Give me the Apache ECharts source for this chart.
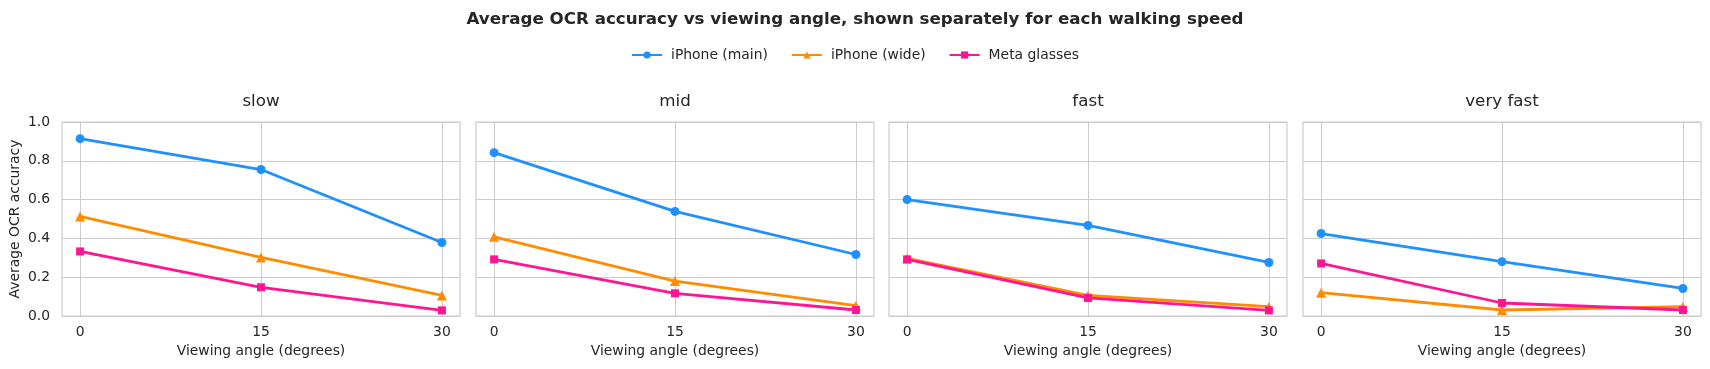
<!DOCTYPE html>
<html>
<head>
<meta charset="utf-8">
<title>Average OCR accuracy vs viewing angle</title>
<script src="https://cdn.jsdelivr.net/npm/echarts@6.0.0/dist/echarts.min.js"></script>
<style>
  html, body { margin: 0; padding: 0; background: #fff; }
  #chart { width: 1710px; height: 369px; }
</style>
</head>
<body>
<div id="chart"></div>
<script>
// walking speeds (one panel each) and viewing angles
const speeds = ['slow', 'mid', 'fast', 'very fast']
const angles = [0, 15, 30]
const yTicks = [0, 0.2, 0.4, 0.6, 0.8, 1.0]

// accuracy per speed, values at 0 / 15 / 30 degrees
const iphoneMain = [
  [0.914, 0.755, 0.379],
  [0.842, 0.539, 0.317],
  [0.600, 0.467, 0.276],
  [0.425, 0.280, 0.142]
]
const iphoneWide = [
  [0.513, 0.302, 0.106],
  [0.408, 0.180, 0.053],
  [0.297, 0.106, 0.048],
  [0.120, 0.031, 0.048]
]
const metaGlasses = [
  [0.333, 0.148, 0.029],
  [0.292, 0.117, 0.031],
  [0.292, 0.093, 0.029],
  [0.271, 0.067, 0.031]
]

const lines = [
  { name: 'iPhone (main)', color: '#1e90ff', symbol: 'circle', size: 9, values: iphoneMain },
  { name: 'iPhone (wide)', color: '#ff8c00', symbol: 'triangle', size: 10, values: iphoneWide },
  { name: 'Meta glasses', color: '#ff1493', symbol: 'rect', size: 8, values: metaGlasses }
]

const font = 'DejaVu Sans'
const ink = '#262626'
const gridColor = '#cccccc'
const panelLeft = [62, 476, 889, 1303]
const panelWidth = 398

const chart = echarts.init(document.getElementById('chart'))

const titles = [{
  text: 'Average OCR accuracy vs viewing angle, shown separately for each walking speed',
  left: 'center',
  top: 11,
  padding: 0,
  textStyle: { fontFamily: font, fontSize: 16.7, fontWeight: 'bold', color: ink }
}]
const grids = []
const xAxes = []
const yAxes = []
const series = []

speeds.forEach((speed, i) => {
  titles.push({
    text: speed,
    left: panelLeft[i] + panelWidth / 2,
    top: 93,
    padding: 0,
    textAlign: 'center',
    textStyle: { fontFamily: font, fontSize: 16.7, fontWeight: 'normal', color: ink }
  })
  grids.push({
    left: panelLeft[i],
    top: 122,
    width: panelWidth,
    height: 194,
    show: true,
    borderColor: gridColor,
    borderWidth: 1.2
  })
  xAxes.push({
    type: 'value',
    gridIndex: i,
    min: -1.5,
    max: 31.5,
    name: 'Viewing angle (degrees)',
    nameLocation: 'middle',
    nameGap: 28,
    nameTextStyle: { fontFamily: font, fontSize: 13.9, color: ink },
    axisLine: { show: false },
    axisTick: { show: false, customValues: angles },
    axisLabel: { customValues: angles, margin: 9, fontFamily: font, fontSize: 13.9, color: ink },
    splitLine: { show: true, lineStyle: { color: gridColor, width: 1 } }
  })
  yAxes.push({
    type: 'value',
    gridIndex: i,
    min: yTicks[0],
    max: yTicks[yTicks.length - 1],
    interval: 0.2,
    name: i === 0 ? 'Average OCR accuracy' : '',
    nameLocation: 'middle',
    nameGap: 40,
    nameTextStyle: { fontFamily: font, fontSize: 13.9, color: ink },
    axisLine: { show: false },
    axisTick: { show: false },
    axisLabel: {
      show: i === 0,
      margin: 12,
      fontFamily: font,
      fontSize: 13.9,
      color: ink,
      formatter: (v) => v.toFixed(1)
    },
    splitLine: { show: true, lineStyle: { color: gridColor, width: 1 } }
  })
  lines.forEach((l) => {
    series.push({
      name: l.name,
      type: 'line',
      xAxisIndex: i,
      yAxisIndex: i,
      symbol: l.symbol,
      symbolSize: l.size,
      showAllSymbol: true,
      color: l.color,
      lineStyle: { width: 2.8, color: l.color },
      itemStyle: { color: l.color },
      data: angles.map((a, j) => [a, l.values[i][j]])
    })
  })
})

chart.setOption({
  animation: false,
  backgroundColor: '#ffffff',
  title: titles,
  legend: {
    data: lines.map((l) => l.name),
    left: 'center',
    top: 43,
    itemWidth: 30,
    itemHeight: 9,
    itemGap: 23,
    textStyle: { fontFamily: font, fontSize: 13.9, color: ink, padding: [0, 0, 0, 4] }
  },
  grid: grids,
  xAxis: xAxes,
  yAxis: yAxes,
  series: series
})
</script>
</body>
</html>
